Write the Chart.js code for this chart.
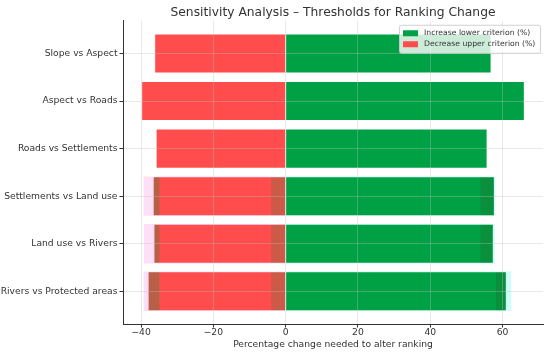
<!DOCTYPE html>
<html>
<head>
<meta charset="utf-8">
<script src="https://cdn.jsdelivr.net/npm/chart.js@4/dist/chart.umd.min.js"></script>
<style>
  body { margin: 0; background: #fff; }
  #wrap { width: 550px; height: 355px; }
</style>
</head>
<body>
<div id="wrap"><canvas id="myChart" width="550" height="355"></canvas></div>
<script>
const categories = [
    'Slope vs Aspect',
    'Aspect vs Roads',
    'Roads vs Settlements',
    'Settlements vs Land use',
    'Land use vs Rivers',
    'Rivers vs Protected areas'
];

// main series (%)
const increaseLower = [56.7, 65.9, 55.6, 57.6, 57.3, 60.9];
const decreaseUpper = [-36.1, -39.7, -35.7, -36.5, -36.3, -37.9];

// faint ghost bars visible behind the lower three rows
const ghostLeft = [null, null, null, -39.3, -39.2, -39.3];
const ghostRight = [null, null, null, 58.0, 57.8, 62.4];

// darker overlapping segments [from, to]
const redOuterShade = [null, null, null, [-36.5, -34.9], [-36.3, -34.9], [-37.9, -34.9]];
const redInnerShade = [null, null, null, [-4, 0], [-4, 0], [-4, 0]];
const greenShade = [null, null, null, [53.9, 57.6], [53.9, 57.3], [58.2, 60.9]];

const xTicks = [-40, -20, 0, 20, 40, 60];

const FONT = 'DejaVu Sans';
const GREEN = '#00A144';
const RED = '#FF4C4C';

const toPoints = (arr) => arr.map((v, i) => ({ x: v, y: i }));

const legendInside = {
    id: 'legendInside',
    afterDraw(chart) {
        const { ctx, chartArea } = chart;
        const items = chart.data.datasets.filter(d => d.showInLegend);
        const w = 141, h = 28;
        const x0 = chartArea.right - 3 - w;
        const y0 = chartArea.top + 4;
        ctx.save();
        ctx.fillStyle = 'rgba(255,255,255,0.8)';
        ctx.strokeStyle = 'rgba(204,204,204,0.9)';
        ctx.lineWidth = 1;
        ctx.beginPath();
        ctx.roundRect(x0 + 0.5, y0 + 0.5, w, h, 2);
        ctx.fill();
        ctx.stroke();
        ctx.font = '7.7px "' + FONT + '"';
        ctx.textBaseline = 'middle';
        items.forEach((d, k) => {
            const cy = y0 + 8.5 + k * 11;
            ctx.fillStyle = d.backgroundColor;
            ctx.fillRect(x0 + 4, cy - 3, 15, 6);
            ctx.fillStyle = '#333';
            ctx.fillText(d.label, x0 + 25, cy);
        });
        ctx.restore();
    }
};

const data = {
    datasets: [
        {
            label: 'Increase lower criterion (%)',
            data: toPoints(increaseLower),
            backgroundColor: GREEN,
            showInLegend: true,
            order: 2
        },
        {
            label: 'Decrease upper criterion (%)',
            data: toPoints(decreaseUpper),
            backgroundColor: RED,
            showInLegend: true,
            order: 2
        },
        {
            label: 'ghost left',
            data: toPoints(ghostLeft),
            backgroundColor: 'rgba(255,150,230,0.3)',
            barPercentage: 0.83,
            order: 3
        },
        {
            label: 'ghost right',
            data: toPoints(ghostRight),
            backgroundColor: 'rgba(110,255,235,0.35)',
            barPercentage: 0.83,
            order: 3
        },
        {
            label: 'shade outer',
            data: toPoints(redOuterShade),
            backgroundColor: 'rgba(0,150,60,0.28)',
            order: 1
        },
        {
            label: 'shade inner',
            data: toPoints(redInnerShade),
            backgroundColor: 'rgba(0,150,60,0.2)',
            order: 1
        },
        {
            label: 'shade green',
            data: toPoints(greenShade),
            backgroundColor: 'rgba(70,40,20,0.15)',
            order: 1
        }
    ]
};

const config = {
    type: 'bar',
    data: data,
    plugins: [legendInside],
    options: {
        responsive: false,
        animation: false,
        devicePixelRatio: 1,
        indexAxis: 'y',
        layout: { padding: { right: 7 } },
        datasets: {
            bar: {
                grouped: false,
                categoryPercentage: 1,
                barPercentage: 0.8,
                borderWidth: 0
            }
        },
        plugins: {
            legend: { display: false },
            tooltip: { enabled: false },
            title: {
                display: true,
                fullSize: false,
                text: 'Sensitivity Analysis \u2013 Thresholds for Ranking Change',
                color: '#333',
                font: { family: FONT, size: 12.3, weight: 'normal' },
                padding: { top: 5, bottom: 1 }
            }
        },
        scales: {
            x: {
                type: 'linear',
                min: -45,
                max: 71.2,
                offset: false,
                afterFit: (s) => { s.height = 31; },
                afterBuildTicks: (s) => { s.ticks = xTicks.map(v => ({ value: v })); },
                ticks: {
                    color: '#333',
                    padding: 0,
                    font: { family: FONT, size: 9.2 },
                    callback: (v) => (v < 0 ? '\u2212' + Math.abs(v) : String(v))
                },
                grid: {
                    color: 'rgba(190,190,190,0.35)',
                    tickColor: '#333',
                    tickLength: 3.5,
                    offset: false,
                    z: 1
                },
                border: { display: true, color: '#333', width: 1, z: 2 },
                title: {
                    display: true,
                    text: 'Percentage change needed to alter ranking',
                    color: '#333',
                    font: { family: FONT, size: 9.2 },
                    padding: { top: 0, bottom: 5 }
                }
            },
            y: {
                type: 'linear',
                reverse: true,
                min: -0.69,
                max: 5.69,
                offset: false,
                afterFit: (s) => { s.width = 123; },
                afterBuildTicks: (s) => { s.ticks = categories.map((c, i) => ({ value: i })); },
                ticks: {
                    color: '#333',
                    padding: 2,
                    font: { family: FONT, size: 9.2 },
                    callback: (v) => categories[v]
                },
                grid: {
                    color: 'rgba(190,190,190,0.35)',
                    tickColor: '#333',
                    tickLength: 3.5,
                    offset: false,
                    z: 1
                },
                border: { display: true, color: '#333', width: 1, z: 2 }
            }
        }
    }
};

const myChart = new Chart(document.getElementById('myChart').getContext('2d'), config);
</script>
</body>
</html>
